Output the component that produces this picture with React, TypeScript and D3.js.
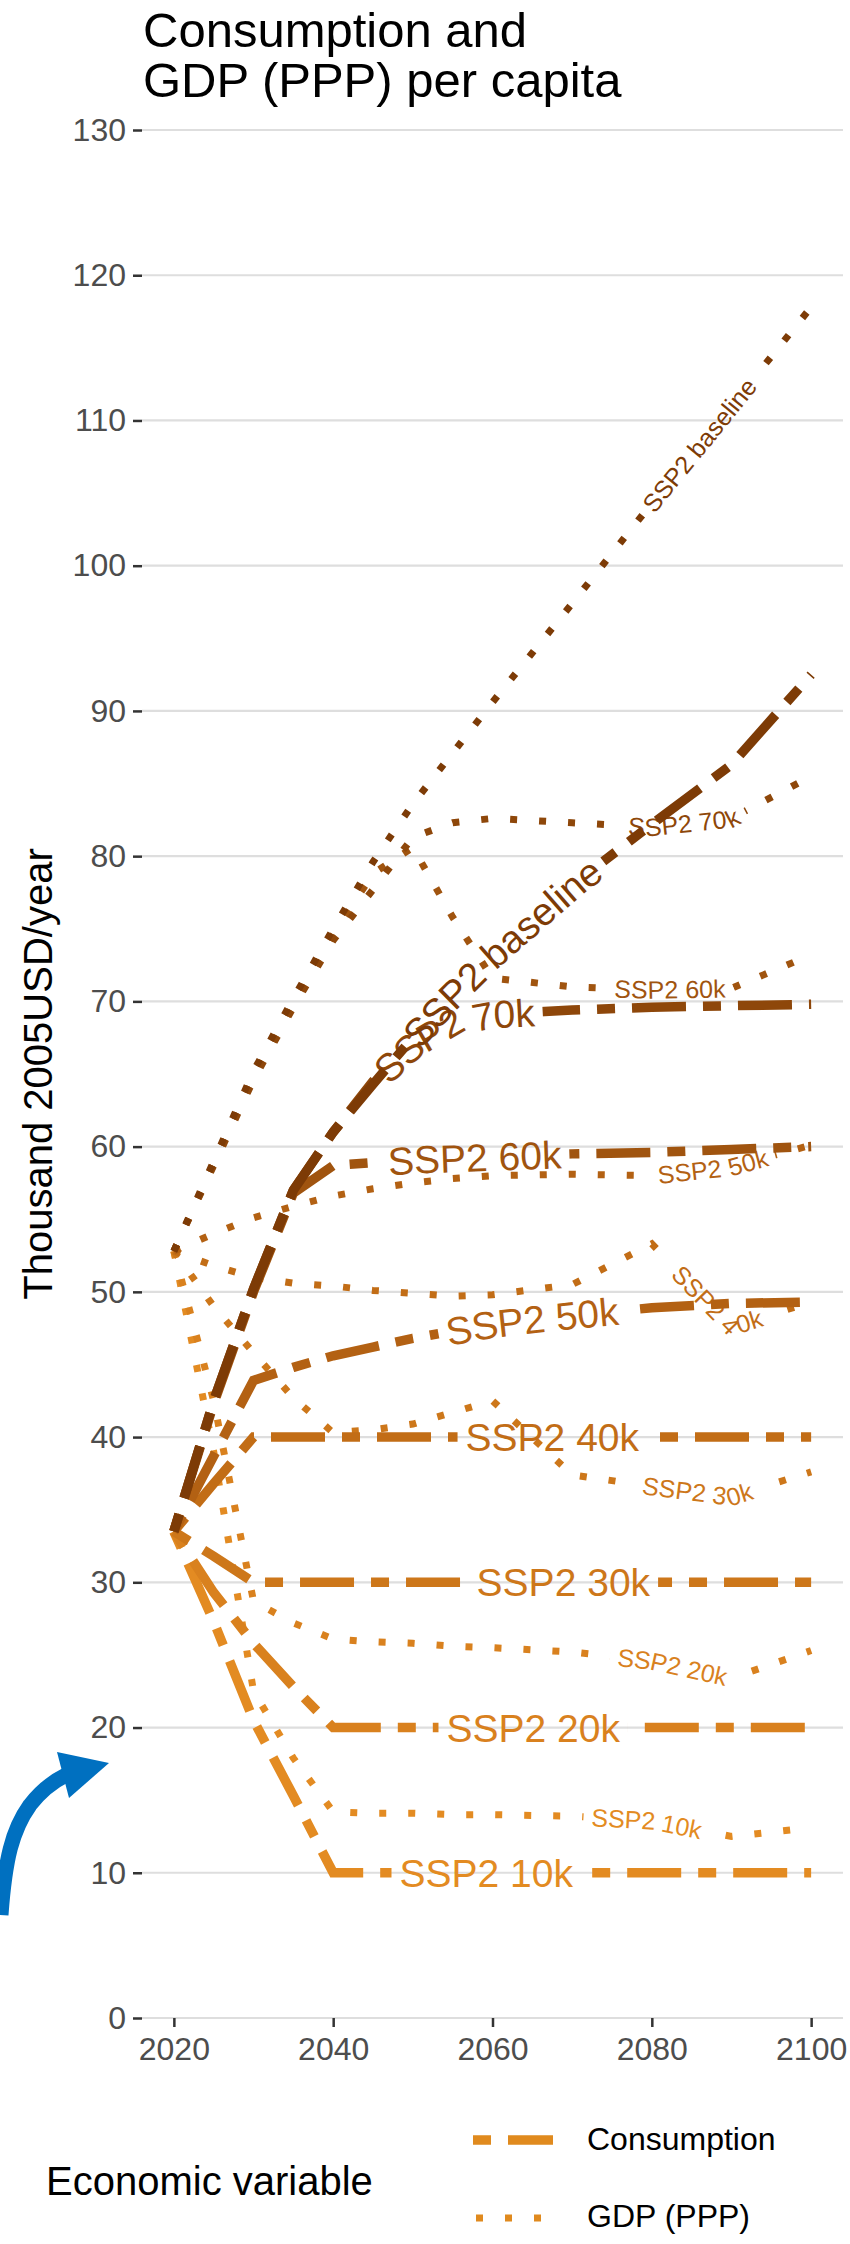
import React, { useEffect, useRef } from 'react';
import * as d3 from 'd3';

// model time steps
const years = [2020, 2025, 2030, 2035, 2040, 2045, 2050, 2055, 2060, 2070, 2080, 2090, 2100];

const scenarios = ['SSP2 10k', 'SSP2 20k', 'SSP2 30k', 'SSP2 40k', 'SSP2 50k', 'SSP2 60k', 'SSP2 70k', 'SSP2 baseline'];
const scenarioColors = ['#e38b22', '#d9811e', '#cd771a', '#c26d16', '#b36113', '#a0540f', '#8e470a', '#7d3b06'];

// Consumption per capita (thousand 2005USD/year)
const consumption10k = [33.5, 27.3, 20.5, 15.3, 10, 10, 10, 10, 10, 10, 10, 10, 10];
const consumption20k = [33.5, 29.3, 25.8, 22.8, 20, 20, 20, 20, 20, 20, 20, 20, 20];
const consumption30k = [33.5, 31.8, 30, 30, 30, 30, 30, 30, 30, 30, 30, 30, 30];
const consumption40k = [33.5, 36.8, 40, 40, 40, 40, 40, 40, 40, 40, 40, 40, 40];
const consumption50k = [33.5, 38.7, 43.9, 44.8, 45.6, 46.2, 46.8, 47.3, 47.8, 48.4, 48.9, 49.2, 49.3];
const consumption60k = [33.5, 42.3, 50.0, 56.8, 58.7, 58.9, 59.1, 59.2, 59.3, 59.5, 59.6, 59.8, 60.0];
const consumption70k = [33.5, 42.5, 50.2, 57.0, 61.0, 64.5, 67.0, 68.6, 69.1, 69.4, 69.6, 69.7, 69.8];
const consumptionBaseline = [33.5, 42.5, 50.2, 57.0, 61.0, 64.3, 67.5, 70.5, 73.2, 78.0, 82.2, 86.3, 92.5];

// GDP (PPP) per capita (thousand 2005USD/year)
const gdp10k = [52.8, 39.0, 22.5, 17.9, 14.2, 14.1, 14.1, 14.0, 14.0, 13.9, 13.6, 12.5, 13.1];
const gdp20k = [52.8, 42.5, 28.7, 27.2, 26.1, 25.9, 25.8, 25.6, 25.5, 25.2, 24.6, 23.4, 25.3];
const gdp30k = [52.8, 49.0, 45.8, 42.7, 40.3, 40.5, 40.9, 41.7, 42.5, 37.4, 36.6, 35.9, 37.6];
const gdp40k = [52.8, 51.8, 51.0, 50.6, 50.4, 50.1, 49.9, 49.7, 49.8, 50.5, 53.3, 47.6, 49.3];
const gdp50k = [52.8, 54.0, 55.1, 55.9, 56.6, 57.1, 57.5, 57.8, 58.0, 58.1, 58.0, 58.6, 60.1];
const gdp60k = [52.8, 58.8, 64.8, 69.8, 74.6, 78.8, 80.6, 75.8, 71.6, 71.0, 70.8, 70.9, 73.2];
const gdp70k = [52.8, 58.7, 64.6, 69.6, 74.2, 77.7, 81.3, 82.3, 82.6, 82.3, 82.0, 82.6, 85.5];
const gdpBaseline = [52.8, 59.0, 65.2, 70.2, 75.0, 79.6, 83.6, 87.1, 90.6, 97.4, 104.3, 111.0, 117.8];

const consumptionSeries = [consumption10k, consumption20k, consumption30k, consumption40k,
  consumption50k, consumption60k, consumption70k, consumptionBaseline];
const gdpSeries = [gdp10k, gdp20k, gdp30k, gdp40k, gdp50k, gdp60k, gdp70k, gdpBaseline];

const yTicks = [0, 10, 20, 30, 40, 50, 60, 70, 80, 90, 100, 110, 120, 130];
const xTicks = [2020, 2040, 2060, 2080, 2100];
const variables = ['Consumption', 'GDP (PPP)'];

const FONT = '"Liberation Sans", Arial, Helvetica, sans-serif';

const App = () => {
  const svgRef = useRef<SVGSVGElement>(null);

  useEffect(() => {
    const svg = d3.select(svgRef.current);
    svg.selectAll('*').remove();

    const W = 850;
    const H = 2244;

    const x = d3.scaleLinear().domain([2016, 2104]).range([142, 843]);
    const y = d3.scaleLinear().domain([0, 130]).range([2018, 130]);

    svg.append('rect').attr('width', W).attr('height', H).attr('fill', '#fff');
    const defs = svg.append('defs');

    // Title
    const title = svg.append('text')
      .attr('font-family', FONT)
      .attr('font-size', 49)
      .attr('fill', '#000');
    title.append('tspan').attr('x', 143).attr('y', 47).text('Consumption and');
    title.append('tspan').attr('x', 143).attr('y', 97).text('GDP (PPP) per capita');

    // Grid lines
    svg.append('g')
      .selectAll('line')
      .data(yTicks)
      .join('line')
      .attr('x1', 142)
      .attr('x2', 843)
      .attr('y1', d => y(d))
      .attr('y2', d => y(d))
      .attr('stroke', '#dedede')
      .attr('stroke-width', 2.2);

    // Axes
    const yAxis = svg.append('g')
      .attr('transform', 'translate(142,0)')
      .call(d3.axisLeft(y).tickValues(yTicks).tickSize(9).tickPadding(7));
    yAxis.select('.domain').remove();
    yAxis.selectAll('line').attr('stroke', '#333').attr('stroke-width', 2.5);
    yAxis.selectAll('text')
      .attr('font-family', FONT)
      .attr('font-size', 32)
      .attr('fill', '#4d4d4d');

    const xAxis = svg.append('g')
      .attr('transform', `translate(0,${y(0)})`)
      .call(d3.axisBottom(x).tickValues(xTicks).tickFormat(d3.format('d')).tickSize(9).tickPadding(10));
    xAxis.select('.domain').remove();
    xAxis.selectAll('line').attr('stroke', '#333').attr('stroke-width', 2.5);
    xAxis.selectAll('text')
      .attr('font-family', FONT)
      .attr('font-size', 32)
      .attr('fill', '#4d4d4d');

    svg.append('text')
      .attr('transform', 'translate(52,1074) rotate(-90)')
      .attr('text-anchor', 'middle')
      .attr('font-family', FONT)
      .attr('font-size', 40)
      .attr('fill', '#000')
      .text('Thousand 2005USD/year');

    const line = d3.line<number>()
      .x((_, i) => x(years[i]))
      .y(d => y(d));

    // draws one line with its label laid along the path (line is cut under the label)
    const drawSeries = (layer, values, color, label, id, opts) => {
      const d = line(values);
      const guide = defs.append('path').attr('id', `guide-${id}`).attr('d', d);
      const total = (guide.node() as SVGPathElement).getTotalLength();
      const center = total * opts.hjust;

      const path = layer.append('path')
        .attr('d', d)
        .attr('fill', 'none')
        .attr('stroke', color)
        .attr('stroke-width', opts.width)
        .attr('stroke-dasharray', opts.dash)
        .attr('mask', `url(#mask-${id})`);

      const text = layer.append('text')
        .attr('font-family', FONT)
        .attr('font-size', opts.size)
        .attr('fill', color)
        .attr('text-anchor', 'middle')
        .attr('dominant-baseline', 'central');
      text.append('textPath')
        .attr('href', `#guide-${id}`)
        .attr('startOffset', center)
        .text(label);

      const textLen = (text.node() as SVGTextElement).getComputedTextLength();
      const pad = 8;
      const start = Math.max(0, center - textLen / 2 - pad);
      const len = textLen + 2 * pad;

      const mask = defs.append('mask')
        .attr('id', `mask-${id}`)
        .attr('maskUnits', 'userSpaceOnUse')
        .attr('x', 0).attr('y', 0).attr('width', W).attr('height', H);
      mask.append('rect').attr('width', W).attr('height', H).attr('fill', '#fff');
      mask.append('path')
        .attr('d', d)
        .attr('fill', 'none')
        .attr('stroke', '#000')
        .attr('stroke-width', opts.size * 1.3)
        .attr('stroke-dasharray', `0 ${start} ${len} ${total * 2}`);

      return path;
    };

    const gdpLayer = svg.append('g');
    gdpSeries.forEach((vals, i) => {
      drawSeries(gdpLayer, vals, scenarioColors[i], scenarios[i], `gdp-${i}`,
        { hjust: 0.845, size: 25, width: 7, dash: '7 22' });
    });

    const consLayer = svg.append('g');
    consumptionSeries.forEach((vals, i) => {
      drawSeries(consLayer, vals, scenarioColors[i], scenarios[i], `cons-${i}`,
        { hjust: 0.62, size: 39, width: 9.5, dash: '18 17 54 17' });
    });

    // Legend
    svg.append('text')
      .attr('x', 46)
      .attr('y', 2195)
      .attr('font-family', FONT)
      .attr('font-size', 40)
      .attr('fill', '#000')
      .text('Economic variable');

    const legendDash = ['18 17 54 17', '7 22'];
    const legendWidth = [9.5, 7];
    const legendY = [2140, 2218];
    const legendTextY = [2150, 2227];
    variables.forEach((v, i) => {
      svg.append('line')
        .attr('x1', i === 0 ? 473 : 476)
        .attr('x2', 553)
        .attr('y1', legendY[i])
        .attr('y2', legendY[i])
        .attr('stroke', '#e08a1e')
        .attr('stroke-width', legendWidth[i])
        .attr('stroke-dasharray', legendDash[i]);
      svg.append('text')
        .attr('x', 587)
        .attr('y', legendTextY[i])
        .attr('font-family', FONT)
        .attr('font-size', 32)
        .attr('fill', '#000')
        .text(v);
    });

    // Blue annotation arrow
    svg.append('path')
      .attr('d', 'M 1 1915 C 5 1860, 12 1830, 30 1805 C 40 1792, 52 1782, 66 1775')
      .attr('fill', 'none')
      .attr('stroke', '#0070c0')
      .attr('stroke-width', 15);
    svg.append('polygon')
      .attr('points', '57,1752 109,1763 69,1798')
      .attr('fill', '#0070c0');
  }, []);

  return (
    <svg
      ref={svgRef}
      width={850}
      height={2244}
      style={{ position: 'absolute', left: 0, top: 0 }}
    />
  );
};

export default App;
